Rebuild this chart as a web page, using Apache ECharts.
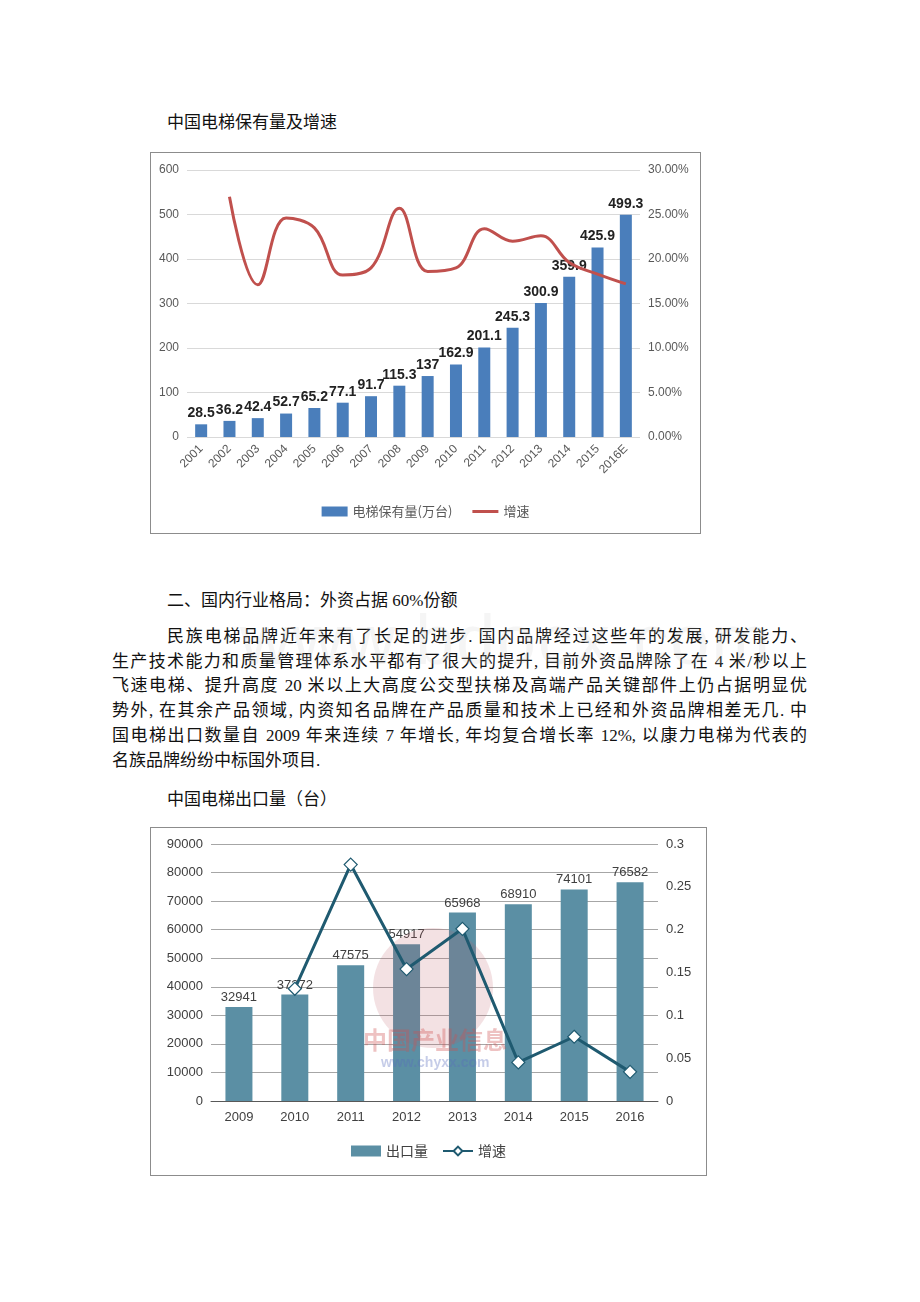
<!DOCTYPE html>
<html><head><meta charset="utf-8">
<script src="https://cdn.jsdelivr.net/npm/echarts@6/dist/echarts.min.js"></script>
<style>
html,body{margin:0;padding:0;background:#fff;width:920px;height:1302px;overflow:hidden;}
.t{position:absolute;font-family:"Liberation Serif","Noto Sans CJK SC",serif;font-size:17px;color:#111;white-space:nowrap;line-height:20px;}
.jl{text-align:justify;text-align-last:justify;white-space:normal;}
.box{position:absolute;border:1px solid #8c8c8c;box-sizing:border-box;}
.wm{position:absolute;font-family:"Liberation Sans",sans-serif;font-size:70px;color:rgba(200,200,200,0.18);left:240px;top:600px;letter-spacing:2px;}
</style></head>
<body>
<div class="t" style="left:167px;top:113px;">中国电梯保有量及增速</div>
<div class="box" id="c1" style="left:150px;top:152px;width:551px;height:382px;"></div>
<div class="t" style="left:167px;top:591px;">二、国内行业格局：外资占据 60%份额</div>
<div class="t jl" style="left:167px;top:627px;width:640px;">民族电梯品牌近年来有了长足的进步. 国内品牌经过这些年的发展, 研发能力、</div>
<div class="t jl" style="left:112px;top:652px;width:695px;">生产技术能力和质量管理体系水平都有了很大的提升, 目前外资品牌除了在 4 米/秒以上</div>
<div class="t jl" style="left:112px;top:676px;width:695px;">飞速电梯、提升高度 20 米以上大高度公交型扶梯及高端产品关键部件上仍占据明显优</div>
<div class="t jl" style="left:112px;top:701px;width:695px;">势外, 在其余产品领域, 内资知名品牌在产品质量和技术上已经和外资品牌相差无几. 中</div>
<div class="t jl" style="left:112px;top:726px;width:695px;">国电梯出口数量自 2009 年来连续 7 年增长, 年均复合增长率 12%, 以康力电梯为代表的</div>
<div class="t" style="left:112px;top:751px;">名族品牌纷纷中标国外项目.</div>
<div class="wm">www.bdocx.com</div>
<div class="t" style="left:167px;top:790px;">中国电梯出口量（台）</div>
<div class="box" id="c2" style="left:150px;top:827px;width:557px;height:349px;"></div>
<script>
// Chart 1 data
const years1 = ['2001','2002','2003','2004','2005','2006','2007','2008','2009','2010','2011','2012','2013','2014','2015','2016E'];
const stock1 = [28.5,36.2,42.4,52.7,65.2,77.1,91.7,115.3,137,162.9,201.1,245.3,300.9,359.9,425.9,499.3];
const growth1 = [null,27.0,17.1,24.6,23.5,18.2,19.0,25.7,18.6,19.0,23.4,22.0,22.6,19.6,18.3,17.2];
const leftTicks1 = {min:0,max:600,interval:100};
const rightTicks1 = {min:0,max:30,interval:5};
// Chart 2 data
const years2 = ['2009','2010','2011','2012','2013','2014','2015','2016'];
const export2 = [32941,37272,47575,54917,65968,68910,74101,76582];
const growth2 = [null,0.131,0.276,0.154,0.201,0.045,0.075,0.034];
const leftTicks2 = {min:0,max:90000,interval:10000};
const rightTicks2 = {min:0,max:0.3,interval:0.05};

const c1 = echarts.init(document.getElementById('c1'));
const axLbl = {color:'#595959',fontSize:12,fontFamily:'Liberation Sans Narrow, Liberation Sans, sans-serif'};
c1.setOption({
  animation:false,
  grid:{left:36,right:60,top:17,bottom:96,containLabel:false},
  legend:{bottom:10,left:'center',itemWidth:26,itemHeight:10,itemGap:20,
    textStyle:{color:'#595959',fontSize:13,fontFamily:'Noto Sans CJK SC'},
    data:[{name:'电梯保有量(万台)',icon:'rect'},{name:'增速',icon:'path://M0,4h26v3h-26z'}]},
  xAxis:{type:'category',data:years1,axisLine:{show:false},axisTick:{show:false},
    axisLabel:Object.assign({rotate:45,margin:10,interval:0,fontSize:13},axLbl)},
  yAxis:[
    Object.assign({type:'value',position:'left',splitLine:{lineStyle:{color:'#d9d9d9'}},axisLabel:axLbl,axisLine:{show:false},axisTick:{show:false}},leftTicks1),
    Object.assign({type:'value',position:'right',splitLine:{show:false},axisLine:{show:false},axisTick:{show:false},
      axisLabel:Object.assign({formatter:v=>v.toFixed(2)+'%'},axLbl)},rightTicks1)
  ],
  series:[
    {name:'电梯保有量(万台)',type:'bar',data:stock1,barWidth:12,itemStyle:{color:'#4a7ebb'},
      label:{show:true,position:'top',distance:4,color:'#222',fontSize:14,fontWeight:'bold',fontFamily:'Liberation Sans Narrow, Liberation Sans, sans-serif'}},
    {name:'增速',type:'line',yAxisIndex:1,data:growth1,smooth:0.4,symbol:'none',
      lineStyle:{color:'#c0504d',width:3},itemStyle:{color:'#c0504d'}}
  ]
});

const c2 = echarts.init(document.getElementById('c2'));
const axLbl2 = {color:'#404040',fontSize:13,fontFamily:'Liberation Sans, Arial, sans-serif'};
c2.setOption({
  animation:false,
  grid:{left:60,right:48,top:16,bottom:74,containLabel:false},
  legend:{bottom:12,left:'center',itemGap:14,itemWidth:30,itemHeight:11,
    textStyle:{color:'#404040',fontSize:14,fontFamily:'Noto Sans CJK SC'},
    data:[{name:'出口量',icon:'rect'},{name:'增速'}]},
  xAxis:{type:'category',data:years2,axisLine:{lineStyle:{color:'#595959'}},axisTick:{show:false},
    axisLabel:Object.assign({margin:10,interval:0},axLbl2)},
  yAxis:[
    Object.assign({type:'value',position:'left',splitLine:{lineStyle:{color:'#a6a6a6'}},
      axisLabel:Object.assign({formatter:v=>String(v)},axLbl2),axisLine:{show:false},axisTick:{show:false}},leftTicks2),
    Object.assign({type:'value',position:'right',splitLine:{show:false},axisLine:{show:false},axisTick:{show:false},
      axisLabel:Object.assign({formatter:v=>String(+v.toFixed(2))},axLbl2)},rightTicks2)
  ],
  graphic:[
    {type:'circle',shape:{cx:282,cy:160,r:60},style:{fill:'rgba(190,90,100,0.18)'},z:5},
    {type:'text',left:212,top:200,style:{text:'中国产业信息',fill:'rgba(205,80,80,0.35)',fontSize:24,fontWeight:'bold',fontFamily:'Noto Sans CJK SC'},z:5},
    {type:'text',left:230,top:228,style:{text:'www.chyxx.com',fill:'rgba(90,110,190,0.35)',fontSize:14,fontWeight:'bold',fontFamily:'Liberation Sans'},z:5}
  ],
  series:[
    {name:'出口量',type:'bar',data:export2,barWidth:27,itemStyle:{color:'#5b8fa4'},
      label:{show:true,position:'top',distance:3,color:'#404040',fontSize:13,fontFamily:'Liberation Sans, Arial, sans-serif'}},
    {name:'增速',type:'line',yAxisIndex:1,data:growth2,symbol:'diamond',symbolSize:13,
      lineStyle:{color:'#1f5a70',width:3},itemStyle:{color:'#fff',borderColor:'#1f5a70',borderWidth:1.2},z:10}
  ]
});
</script>
</body></html>
